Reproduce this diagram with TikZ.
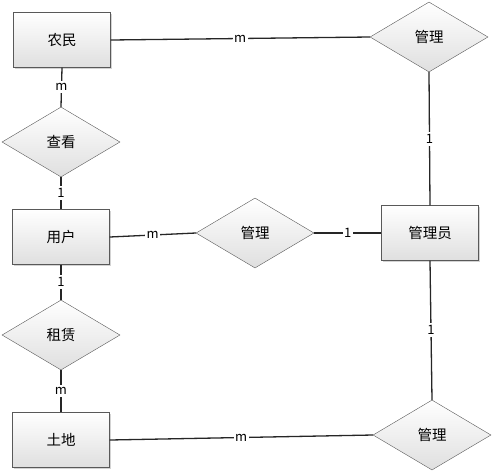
\documentclass[tikz,border=0pt]{standalone}
\usepackage{fontspec}
\setmainfont{Noto Sans CJK SC}
\usepackage{tikz}
\usetikzlibrary{shapes.geometric,shadows}

\begin{document}
\begin{tikzpicture}[x=1pt,y=-1pt,
  entity/.style={rectangle, draw=gray!70!black, top color=white, bottom color=gray!25,
    minimum width=97pt, minimum height=55pt, inner sep=0pt,
    drop shadow={shadow xshift=1.5pt, shadow yshift=-1.5pt, opacity=0.35},
    font=\fontsize{14.5}{16}\selectfont},
  relation/.style={diamond, draw=gray!70!black, top color=white, bottom color=gray!25,
    minimum width=118pt, minimum height=70pt, aspect=1.69, inner sep=0pt,
    font=\fontsize{14.5}{16}\selectfont},
  link/.style={draw=black!85, line width=1.3pt},
  card/.style={fill=white, inner xsep=1.5pt, inner ysep=2.5pt, font=\fontsize{13}{14}\selectfont}]
  \useasboundingbox (0,0) rectangle (495,475);
  % Define entities
  \node[entity] (farmer) at (62,40) {农民};
  \node[entity] (user) at (61,237) {用户};
  \node[entity] (land) at (61,440) {土地};
  \node[entity] (admin) at (430,233) {管理员};
  % Define relations
  \node[relation] (view) at (61,142) {查看};
  \node[relation] (rent) at (61,335) {租赁};
  \node[relation] (mgtop) at (429,37) {管理};
  \node[relation] (mgmid) at (255,233) {管理};
  \node[relation] (mgbot) at (432,435) {管理};
  % Draw connectors
  \draw[link] (farmer.south) -- node[card]{m} (view.north);
  \draw[link] (view.south) -- node[card]{1} (user.north);
  \draw[link] (user.south) -- node[card]{1} (rent.north);
  \draw[link] (rent.south) -- node[card]{m} (land.north);
  \draw[link] (farmer.east) -- node[card]{m} (mgtop.west);
  \draw[link] (user.east) -- node[card]{m} (mgmid.west);
  \draw[link] (land.east) -- node[card]{m} (mgbot.west);
  \draw[link] (mgmid.east) -- node[card]{1} (admin.west);
  \draw[link] (mgtop.south) -- node[card]{1} (admin.north);
  \draw[link] (admin.south) -- node[card]{1} (mgbot.north);
\end{tikzpicture}
\end{document}
